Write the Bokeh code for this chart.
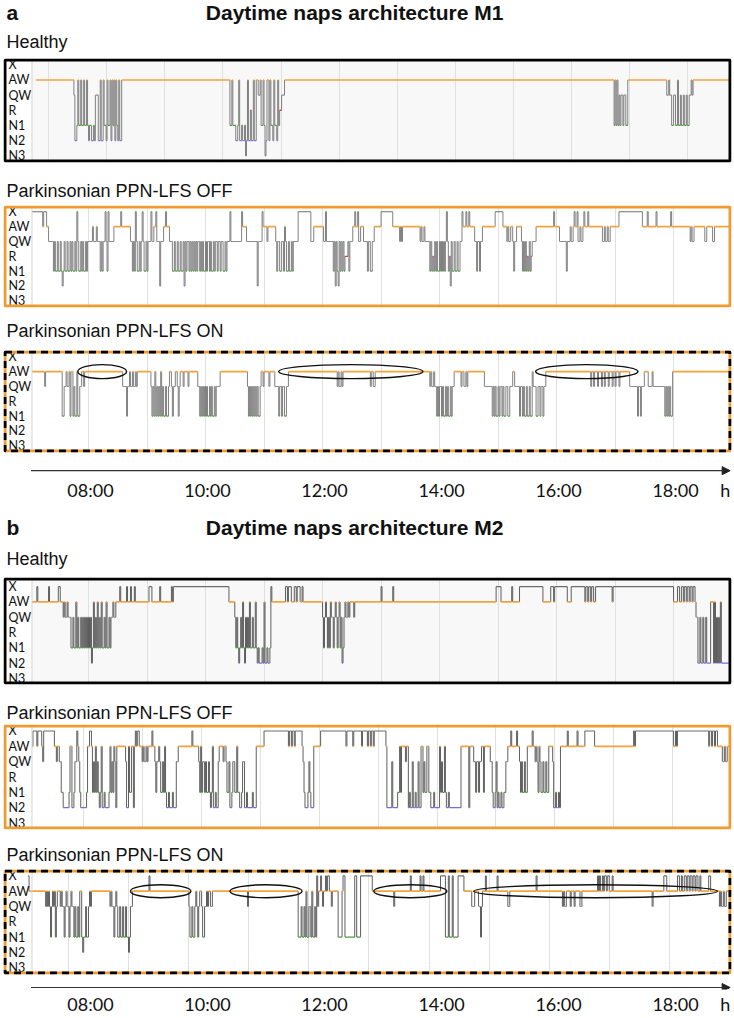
from bokeh.plotting import figure
from bokeh.layouts import column
from bokeh.models import (Range1d, FixedTicker, BoxAnnotation, Span, Arrow,
                          NormalHead, ColumnDataSource, Grid)
from bokeh.core.properties import value
from bokeh.embed import file_html
from bokeh.resources import INLINE

# ---------------- data ----------------
# sleep stages, bottom -> top (y tick labels)
STAGE_LABELS = ["N3", "N2", "N1", "R", "QW", "AW", "X"]
# time axis (minutes after 07:00)
TIME_TICK_MIN = [60, 180, 300, 420, 540, 660]
TIME_TICK_LABELS = ["08:00", "10:00", "12:00", "14:00", "16:00", "18:00"]
UNIT_LABEL = "h"
UNIT_POS = 711
AXIS_START = -1
AXIS_END = 716
SESSION_END = 715

SECTION_TITLES = ["Daytime naps architecture M1", "Daytime naps architecture M2"]
SECTION_LETTERS = ["a", "b"]
PANEL_LABELS = ["Healthy", "Parkinsonian PPN-LFS OFF", "Parkinsonian PPN-LFS ON"]

# hypnograms: (minute after 07:00 where stage starts, stage)
m1_healthy = [
    (4, "AW"),
    (43, "QW"), (44, "N2"), (46, "N1"), (47, "AW"), (48, "N1"), (50, "AW"), (51, "N1"), (53, "AW"),
    (54, "N1"), (56, "AW"), (57, "N1"), (58, "N2"), (59, "N1"), (61, "N2"), (63, "N1"), (64, "N2"),
    (65, "QW"), (68, "N2"), (70, "AW"), (71, "N2"), (73, "AW"), (74, "N1"), (76, "N2"), (77, "AW"),
    (78, "N1"), (80, "AW"), (81, "N2"), (82, "AW"), (83, "N1"), (84, "AW"), (85, "N2"), (86, "AW"),
    (87, "N1"), (88, "N2"), (89, "AW"), (90, "N2"), (92, "AW"),
    (203, "N1"), (205, "AW"), (206, "N1"), (209, "N2"), (211, "N1"), (212, "AW"), (213, "N2"),
    (215, "N1"), (216, "N2"), (218, "N1"), (219, "N3"), (220, "N2"), (221, "AW"), (222, "N2"),
    (224, "R"), (225, "N2"), (227, "AW"), (228, "N2"), (230, "AW"), (232, "QW"), (234, "AW"),
    (235, "N1"), (237, "AW"), (238, "N1"), (239, "N3"), (240, "N2"), (241, "AW"), (243, "N2"),
    (244, "AW"), (245, "N1"), (247, "N2"), (248, "AW"), (249, "N1"), (251, "N2"), (252, "AW"),
    (253, "N1"), (254, "R"), (256, "QW"), (259, "AW"),
    (597, "N1"), (598, "AW"), (599, "N1"), (600, "AW"), (601, "N1"), (602, "QW"), (603, "N1"),
    (604, "QW"), (606, "N1"), (607, "QW"), (609, "N1"), (611, "AW"),
    (651, "QW"), (653, "AW"), (654, "QW"), (656, "N1"), (658, "QW"), (660, "N1"), (662, "AW"),
    (663, "N1"), (665, "QW"), (666, "N1"), (668, "QW"), (669, "N1"), (671, "QW"), (672, "N1"),
    (674, "QW"), (676, "AW"), (677, "QW"), (678, "AW"),
]

m1_off = [
    (0, "X"), (11, "AW"), (12, "X"), (15, "AW"), (17, "QW"),
    (22, "N1"), (23, "QW"), (24, "N1"), (26, "QW"), (27, "N1"), (29, "QW"), (30, "N1"), (31, "N2"),
    (32, "N1"), (33, "QW"), (34, "N1"), (36, "QW"), (37, "N1"), (39, "QW"), (40, "N1"), (41, "QW"),
    (42, "N1"), (44, "QW"), (45, "N1"), (46, "X"), (47, "QW"), (48, "N1"), (50, "QW"), (51, "N1"),
    (52, "QW"), (53, "N1"), (55, "QW"), (56, "N1"), (57, "QW"),
    (62, "AW"), (63, "QW"), (66, "AW"), (67, "QW"),
    (70, "N1"), (71, "QW"), (72, "N1"), (73, "QW"), (75, "X"), (76, "QW"), (77, "N1"), (78, "X"),
    (79, "QW"), (84, "AW"), (91, "X"), (92, "AW"), (101, "QW"),
    (103, "N1"), (104, "QW"), (105, "N1"), (106, "X"), (107, "QW"), (108, "N1"), (110, "QW"),
    (111, "N1"), (112, "QW"), (113, "X"), (114, "QW"), (115, "N1"), (117, "QW"), (118, "N1"),
    (119, "QW"), (122, "X"), (123, "QW"), (125, "AW"), (127, "X"), (128, "QW"), (131, "N2"),
    (132, "QW"), (135, "AW"), (137, "X"), (138, "AW"), (141, "QW"),
    (144, "N1"), (146, "QW"), (147, "N1"), (149, "QW"), (150, "N1"), (152, "QW"), (153, "N1"),
    (155, "QW"), (156, "N2"), (157, "QW"), (158, "N1"), (159, "QW"),
    (161, "N1"), (162, "QW"), (163, "N1"), (164, "QW"), (165, "N1"), (166, "QW"), (167, "N1"),
    (168, "QW"), (169, "N1"), (170, "QW"), (172, "N1"), (173, "QW"), (174, "N1"), (175, "QW"),
    (176, "N1"), (178, "QW"), (179, "N1"), (180, "QW"), (182, "N1"), (183, "QW"), (184, "N1"),
    (186, "QW"), (187, "N1"), (188, "QW"), (190, "N1"), (191, "QW"), (193, "N1"), (194, "QW"),
    (196, "N1"), (198, "QW"), (199, "N1"), (200, "QW"),
    (203, "X"), (204, "QW"), (215, "X"), (216, "AW"), (220, "QW"), (231, "N2"), (232, "QW"),
    (236, "X"), (237, "AW"), (241, "QW"), (242, "AW"), (250, "QW"),
    (251, "N1"), (252, "QW"), (254, "N1"), (256, "QW"), (258, "N1"), (259, "AW"), (260, "QW"),
    (261, "N1"), (263, "QW"), (264, "N1"), (266, "QW"), (267, "N1"), (268, "QW"),
    (273, "X"), (286, "QW"), (289, "AW"), (299, "QW"), (301, "X"), (302, "QW"),
    (309, "N1"), (310, "QW"), (311, "N2"), (312, "QW"), (313, "N1"), (314, "N2"), (315, "QW"),
    (316, "N1"), (317, "QW"), (318, "N1"), (319, "QW"), (320, "N1"), (321, "R"), (324, "QW"),
    (325, "N1"), (326, "QW"), (329, "AW"), (331, "X"), (332, "AW"), (334, "X"), (335, "QW"),
    (337, "AW"), (340, "QW"), (344, "N1"), (345, "QW"), (347, "N1"), (349, "QW"), (351, "AW"),
    (358, "X"), (370, "AW"), (377, "QW"), (378, "AW"), (379, "QW"), (380, "AW"),
    (398, "QW"), (399, "AW"), (400, "QW"), (402, "AW"), (403, "QW"),
    (408, "N1"), (409, "QW"), (410, "N1"), (411, "R"), (412, "N1"), (413, "QW"), (414, "N1"),
    (415, "QW"), (416, "N1"), (418, "QW"), (419, "N1"), (420, "QW"), (421, "N1"), (422, "QW"),
    (423, "N1"), (424, "QW"), (425, "X"), (426, "QW"), (427, "N1"), (428, "R"), (429, "N2"),
    (430, "QW"), (431, "N1"), (433, "QW"), (434, "N1"), (436, "QW"), (437, "N1"), (439, "QW"),
    (441, "X"), (442, "AW"), (445, "X"), (446, "AW"), (448, "X"), (449, "AW"),
    (454, "QW"), (456, "N1"), (457, "QW"), (459, "N1"), (460, "QW"), (462, "AW"),
    (475, "X"), (483, "AW"), (487, "QW"), (488, "AW"), (489, "QW"), (491, "AW"), (493, "QW"),
    (494, "N1"), (495, "QW"), (497, "AW"),
    (502, "QW"), (503, "N1"), (504, "QW"), (505, "N1"), (506, "QW"), (507, "N1"), (508, "R"),
    (509, "N1"), (510, "QW"), (511, "N1"), (512, "R"), (513, "QW"),
    (517, "AW"), (535, "X"), (536, "AW"), (541, "QW"), (548, "N1"), (549, "QW"), (552, "AW"),
    (553, "QW"), (555, "AW"), (556, "X"), (557, "AW"), (559, "X"), (560, "QW"), (562, "AW"),
    (563, "QW"), (565, "AW"), (566, "X"), (567, "AW"), (570, "X"), (571, "AW"),
    (585, "QW"), (587, "AW"), (588, "QW"), (590, "AW"), (591, "QW"), (593, "AW"),
    (602, "X"), (626, "AW"), (631, "X"), (632, "AW"), (640, "X"), (641, "AW"), (655, "X"),
    (656, "AW"), (675, "QW"), (676, "AW"), (677, "QW"), (679, "AW"), (690, "QW"), (692, "AW"),
    (698, "QW"), (700, "AW"),
]

m1_on = [
    (0, "AW"), (13, "QW"), (14, "AW"),
    (31, "N1"), (33, "QW"), (35, "AW"), (36, "QW"), (38, "AW"), (39, "N1"), (40, "AW"), (42, "N1"),
    (43, "QW"), (44, "N1"), (46, "AW"), (47, "N1"), (49, "QW"), (51, "AW"), (53, "QW"), (54, "AW"),
    (93, "QW"), (97, "N1"), (98, "QW"), (100, "AW"), (101, "QW"), (103, "AW"), (104, "QW"),
    (106, "AW"), (107, "QW"), (108, "AW"),
    (122, "QW"), (123, "N1"), (124, "QW"), (125, "N1"), (126, "AW"), (127, "N1"), (128, "QW"),
    (129, "N1"), (130, "QW"), (131, "N1"), (132, "AW"), (133, "N1"), (134, "QW"), (135, "N1"),
    (137, "QW"), (138, "N1"), (140, "QW"), (141, "AW"), (143, "QW"), (144, "N1"), (145, "QW"),
    (147, "AW"), (149, "QW"), (150, "N1"), (151, "QW"), (152, "AW"),
    (155, "QW"), (156, "AW"), (160, "QW"), (161, "AW"),
    (170, "QW"), (172, "N1"), (173, "QW"), (174, "N1"), (175, "QW"), (176, "N1"), (177, "QW"),
    (178, "N1"), (179, "QW"), (180, "N1"), (182, "QW"), (183, "N1"), (184, "QW"), (185, "N1"),
    (187, "QW"), (188, "N1"), (189, "QW"), (193, "AW"),
    (221, "QW"), (222, "N1"), (223, "QW"), (224, "N1"), (225, "QW"), (226, "N1"), (227, "QW"),
    (228, "N1"), (229, "QW"), (230, "N1"), (231, "QW"), (232, "N1"), (234, "QW"), (235, "AW"),
    (237, "QW"), (238, "AW"), (243, "QW"), (244, "AW"), (249, "QW"), (253, "N1"), (254, "QW"),
    (256, "N1"), (257, "QW"), (259, "N1"), (261, "QW"), (263, "AW"),
    (313, "QW"), (314, "AW"), (315, "QW"), (317, "AW"), (318, "QW"), (319, "AW"),
    (347, "QW"), (348, "AW"), (350, "QW"), (352, "AW"),
    (408, "QW"), (409, "AW"), (410, "QW"), (412, "AW"), (413, "QW"), (415, "N1"), (416, "QW"),
    (417, "N1"), (418, "QW"), (420, "N1"), (421, "QW"), (422, "N1"), (424, "QW"), (425, "N1"),
    (426, "QW"), (427, "N1"), (429, "QW"), (430, "N1"), (431, "QW"), (433, "AW"),
    (440, "QW"), (441, "AW"), (443, "QW"), (445, "AW"), (446, "QW"), (447, "AW"),
    (464, "QW"), (472, "N1"), (473, "QW"), (474, "N1"), (475, "QW"), (476, "N1"), (478, "QW"),
    (479, "N1"), (480, "QW"), (482, "N1"), (483, "QW"), (484, "N1"), (486, "QW"), (488, "N1"),
    (490, "QW"), (493, "AW"), (495, "QW"),
    (500, "N1"), (501, "QW"), (503, "N1"), (504, "QW"), (505, "N1"), (507, "QW"), (508, "N1"),
    (510, "QW"), (511, "N1"), (513, "AW"), (514, "QW"), (517, "N1"), (519, "QW"), (521, "N1"),
    (522, "QW"), (524, "N1"), (525, "QW"), (527, "AW"),
    (573, "QW"), (574, "AW"), (576, "QW"), (577, "AW"), (580, "QW"), (581, "AW"), (584, "QW"),
    (585, "AW"), (587, "QW"), (588, "AW"), (591, "QW"), (592, "AW"), (595, "QW"), (596, "AW"),
    (598, "QW"), (599, "AW"), (602, "QW"), (603, "AW"),
    (613, "QW"), (621, "N1"), (622, "QW"), (624, "N1"), (625, "QW"), (628, "AW"),
    (632, "QW"), (636, "AW"), (637, "QW"), (649, "N1"), (650, "QW"), (651, "N1"), (652, "QW"),
    (653, "N1"), (654, "QW"), (655, "N1"), (657, "AW"),
]

m2_healthy = [
    (0, "AW"), (5, "X"), (6, "AW"), (17, "X"), (18, "AW"), (27, "X"), (29, "AW"),
    (32, "QW"), (33, "AW"), (34, "QW"), (36, "AW"), (37, "QW"), (40, "N1"), (42, "QW"), (43, "N1"),
    (45, "AW"), (46, "N1"), (47, "QW"), (48, "N1"), (50, "QW"), (51, "N1"), (52, "QW"), (53, "N1"),
    (54, "QW"), (55, "N1"), (56, "QW"), (57, "N1"), (58, "QW"), (59, "N1"), (60, "QW"), (61, "N2"),
    (62, "N1"), (63, "AW"), (64, "N1"), (65, "QW"), (66, "N1"), (67, "AW"), (68, "N1"), (69, "QW"),
    (70, "N1"), (71, "AW"), (72, "N1"), (74, "QW"), (75, "N1"), (76, "AW"), (77, "N1"), (79, "QW"),
    (80, "N1"), (81, "QW"), (83, "AW"), (84, "QW"), (86, "AW"),
    (90, "X"), (91, "AW"), (97, "X"), (98, "AW"), (101, "X"), (102, "AW"), (105, "X"), (106, "AW"),
    (120, "X"), (123, "AW"), (131, "X"), (132, "AW"), (143, "X"), (144, "AW"), (145, "X"),
    (202, "AW"), (208, "QW"), (209, "N1"), (210, "QW"), (211, "N1"), (212, "N2"), (213, "N1"),
    (214, "QW"), (215, "N1"), (216, "AW"), (217, "N1"), (218, "N2"), (219, "QW"), (220, "N1"),
    (221, "QW"), (222, "N1"), (223, "AW"), (224, "N1"), (226, "QW"), (227, "N1"), (229, "AW"),
    (230, "N1"), (231, "N2"), (232, "N1"), (233, "N2"), (236, "N1"), (237, "N2"), (238, "AW"),
    (239, "N2"), (241, "N1"), (242, "N2"), (244, "N1"), (245, "X"), (246, "AW"),
    (260, "X"), (262, "AW"), (263, "X"), (266, "AW"), (269, "X"), (271, "AW"), (272, "X"),
    (275, "AW"), (277, "X"), (278, "AW"),
    (298, "QW"), (299, "N1"), (300, "QW"), (301, "AW"), (302, "QW"), (303, "N1"), (304, "QW"),
    (305, "N1"), (306, "AW"), (307, "QW"), (309, "N1"), (310, "QW"), (311, "AW"), (312, "QW"),
    (313, "N1"), (314, "QW"), (315, "AW"), (316, "N1"), (317, "QW"), (318, "N2"), (319, "N1"),
    (320, "QW"), (321, "AW"), (322, "QW"), (324, "AW"), (325, "QW"), (326, "AW"), (330, "QW"),
    (331, "AW"), (358, "X"), (359, "AW"), (370, "X"), (371, "AW"),
    (476, "X"), (481, "AW"), (492, "X"), (493, "AW"), (500, "X"), (524, "AW"),
    (532, "X"), (535, "AW"), (536, "X"), (549, "AW"), (553, "X"), (567, "AW"), (568, "X"),
    (570, "AW"), (571, "X"), (573, "AW"), (574, "X"), (576, "AW"), (578, "X"), (595, "AW"),
    (596, "X"), (658, "AW"), (662, "X"), (664, "AW"), (666, "X"), (668, "AW"), (669, "X"),
    (671, "AW"), (672, "X"), (674, "AW"), (675, "X"), (677, "AW"), (678, "X"), (680, "AW"),
    (681, "QW"), (683, "N2"), (685, "QW"), (686, "N2"), (688, "QW"), (689, "N2"), (691, "QW"),
    (692, "N2"), (696, "AW"), (699, "N2"), (700, "AW"), (701, "N2"), (702, "QW"), (703, "N2"),
    (704, "QW"), (705, "N2"), (706, "AW"), (707, "N2"),
]

m2_off = [
    (0, "AW"), (1, "X"), (5, "AW"), (6, "X"), (10, "AW"), (11, "QW"), (12, "X"), (23, "AW"),
    (25, "QW"), (26, "AW"), (28, "QW"), (30, "N1"), (32, "N2"), (38, "N1"), (39, "AW"), (41, "N2"),
    (43, "N1"), (44, "QW"), (46, "X"), (47, "AW"),
    (48, "QW"), (49, "N1"), (50, "N2"), (56, "N1"), (57, "AW"), (59, "X"), (61, "AW"), (62, "N1"),
    (63, "QW"), (64, "N1"), (65, "AW"), (66, "N1"), (67, "QW"), (68, "N1"), (69, "N2"), (70, "N1"),
    (71, "AW"), (72, "N2"), (74, "N1"), (75, "N2"), (79, "N1"), (80, "AW"), (81, "N1"), (82, "QW"),
    (83, "N1"), (84, "AW"), (85, "QW"), (86, "N2"), (87, "AW"),
    (96, "QW"), (97, "N2"), (99, "AW"), (100, "N1"), (102, "AW"), (104, "N2"), (105, "AW"),
    (106, "X"), (107, "AW"), (108, "X"), (110, "AW"),
    (113, "QW"), (114, "AW"), (115, "QW"), (117, "AW"), (118, "QW"), (119, "AW"), (123, "X"),
    (124, "AW"), (126, "QW"), (127, "N1"), (128, "QW"), (130, "AW"), (131, "QW"), (132, "N1"),
    (134, "QW"), (135, "N1"), (136, "AW"), (137, "N1"), (138, "N2"), (140, "N1"), (141, "N2"),
    (144, "N1"), (145, "N2"), (148, "QW"), (150, "AW"), (164, "X"), (165, "AW"),
    (171, "QW"), (172, "N1"), (173, "AW"), (174, "N1"), (175, "QW"), (177, "N1"), (178, "QW"),
    (179, "N1"), (181, "QW"), (182, "N1"), (183, "N2"), (184, "N1"), (185, "AW"), (186, "N2"),
    (188, "N1"), (189, "N2"), (191, "QW"), (192, "AW"),
    (196, "QW"), (197, "AW"), (199, "QW"), (200, "N1"), (202, "QW"), (203, "N2"), (205, "N1"),
    (206, "QW"), (208, "N1"), (210, "AW"), (211, "N1"), (213, "N2"), (215, "N1"), (216, "QW"),
    (218, "N2"), (220, "N1"), (221, "N2"), (226, "N1"), (227, "N2"), (230, "AW"),
    (238, "X"), (263, "AW"), (264, "X"), (266, "AW"), (267, "X"), (269, "AW"), (270, "X"),
    (277, "AW"), (278, "QW"), (279, "N1"), (280, "N2"), (283, "N1"), (284, "QW"), (285, "N1"),
    (286, "N2"), (289, "AW"),
    (296, "X"), (322, "AW"), (323, "X"), (329, "AW"), (330, "X"), (338, "AW"), (339, "X"),
    (344, "AW"), (345, "X"), (347, "AW"), (348, "X"), (350, "AW"), (351, "X"), (363, "AW"),
    (364, "N2"), (369, "QW"), (370, "N2"), (375, "N1"), (377, "AW"), (378, "N1"), (379, "AW"),
    (383, "QW"), (384, "AW"), (386, "N2"), (387, "N1"), (388, "N2"), (390, "QW"), (391, "N2"),
    (393, "N1"), (394, "N2"), (396, "QW"), (397, "N2"), (399, "AW"), (401, "N1"), (402, "QW"),
    (403, "N1"), (405, "AW"), (407, "N1"), (409, "N2"), (412, "N1"), (413, "N2"), (418, "AW"),
    (419, "N1"), (420, "QW"), (421, "N1"), (423, "AW"), (424, "N1"), (425, "N2"), (427, "N1"),
    (428, "N2"), (440, "AW"), (448, "N2"), (449, "AW"), (453, "QW"), (455, "N1"), (456, "QW"),
    (458, "N1"), (459, "QW"), (461, "AW"), (463, "N1"), (464, "AW"), (470, "QW"), (472, "N1"),
    (473, "N2"), (475, "N1"), (476, "QW"), (477, "N2"), (478, "N1"), (479, "N2"), (481, "N1"),
    (482, "N2"), (484, "N1"), (486, "QW"), (488, "AW"), (491, "X"), (492, "AW"), (497, "X"),
    (498, "AW"), (500, "QW"), (501, "N1"), (502, "QW"), (503, "N1"), (505, "QW"), (506, "N1"),
    (508, "AW"), (513, "X"), (514, "AW"), (516, "QW"), (517, "AW"), (518, "QW"), (519, "N1"),
    (520, "AW"), (521, "QW"), (522, "N1"), (524, "QW"), (525, "N1"), (527, "QW"), (528, "N1"),
    (530, "AW"), (534, "QW"), (535, "N2"), (537, "N1"), (538, "N2"), (540, "N1"), (541, "N2"),
    (542, "AW"), (549, "X"), (550, "AW"), (559, "X"), (560, "AW"), (567, "X"), (577, "AW"),
    (617, "X"), (618, "AW"), (619, "X"), (658, "AW"), (660, "X"), (661, "AW"), (662, "X"),
    (694, "AW"), (695, "X"), (697, "AW"), (698, "X"), (700, "AW"), (701, "X"), (703, "AW"),
    (708, "QW"), (710, "AW"), (711, "QW"), (713, "AW"),
]

m2_on = [
    (-4, "X"), (-3, "AW"),
    (14, "QW"), (15, "AW"), (16, "QW"), (17, "AW"), (18, "QW"), (19, "N1"), (20, "QW"), (21, "AW"),
    (22, "QW"), (23, "AW"), (24, "N1"), (25, "QW"), (26, "AW"),
    (29, "QW"), (30, "AW"), (31, "QW"), (33, "N1"), (34, "QW"), (35, "AW"), (36, "QW"), (38, "N1"),
    (39, "QW"), (40, "AW"), (41, "QW"), (43, "N1"), (44, "QW"), (45, "N1"), (47, "QW"), (48, "N1"),
    (49, "AW"), (51, "N1"), (52, "N2"), (53, "N1"), (55, "QW"), (56, "N1"), (58, "QW"), (59, "AW"),
    (60, "QW"), (61, "AW"),
    (80, "QW"), (81, "AW"), (82, "QW"), (84, "N1"), (85, "QW"), (86, "AW"), (87, "QW"), (88, "N1"),
    (90, "QW"), (91, "N1"), (93, "QW"), (94, "N1"), (96, "QW"), (97, "N1"), (99, "N2"), (100, "N1"),
    (101, "QW"), (103, "AW"), (120, "X"), (121, "AW"),
    (161, "QW"), (162, "N1"), (164, "QW"), (165, "N1"), (167, "QW"), (168, "AW"), (169, "QW"),
    (170, "N1"), (171, "QW"), (172, "AW"), (174, "QW"), (175, "N1"), (177, "QW"), (179, "AW"),
    (180, "QW"), (181, "AW"), (183, "QW"), (185, "AW"),
    (221, "QW"), (222, "AW"),
    (273, "N1"), (276, "QW"), (277, "N1"), (279, "QW"), (280, "N1"), (281, "AW"), (282, "N1"),
    (284, "QW"), (286, "N1"), (287, "AW"), (288, "N1"), (290, "QW"), (291, "N1"), (292, "X"),
    (293, "QW"), (294, "AW"), (296, "X"), (297, "AW"), (298, "QW"), (299, "AW"), (301, "X"),
    (302, "AW"), (303, "X"), (305, "AW"), (307, "QW"), (308, "AW"),
    (314, "N1"), (318, "AW"), (319, "X"), (321, "N1"), (331, "X"), (333, "N1"), (337, "X"),
    (349, "AW"), (371, "QW"), (372, "AW"), (388, "X"), (389, "AW"), (398, "X"), (399, "AW"),
    (401, "X"), (402, "AW"),
    (419, "X"), (424, "N1"), (427, "X"), (428, "N1"), (431, "X"), (432, "N1"), (437, "X"),
    (443, "AW"), (451, "QW"), (454, "AW"), (458, "QW"), (460, "N1"), (461, "QW"), (462, "AW"),
    (465, "X"), (466, "AW"), (477, "X"), (478, "AW"), (488, "QW"), (490, "AW"), (517, "X"),
    (518, "AW"), (544, "QW"), (545, "AW"), (546, "QW"), (548, "AW"), (552, "QW"), (553, "AW"),
    (556, "QW"), (557, "AW"), (562, "QW"), (564, "AW"), (580, "X"), (581, "AW"), (582, "X"),
    (583, "AW"), (585, "X"), (586, "AW"), (587, "X"), (589, "AW"), (590, "X"), (592, "AW"),
    (595, "X"), (596, "AW"), (636, "QW"), (637, "AW"), (648, "X"), (651, "AW"), (662, "X"),
    (664, "AW"), (666, "X"), (667, "AW"), (669, "X"), (671, "AW"), (672, "X"), (674, "AW"),
    (675, "X"), (677, "AW"), (678, "X"), (680, "AW"), (681, "X"), (683, "AW"), (685, "X"),
    (686, "AW"), (694, "X"), (696, "AW"), (705, "QW"), (706, "AW"), (707, "QW"), (709, "AW"),
    (710, "QW"), (712, "AW"),
]

# highlighted (circled) wake periods in the ON condition: centre and width in minutes
m1_on_ellipse_center = [72, 327, 569]
m1_on_ellipse_width = [50, 148, 105]
m2_on_ellipse_center = [132, 240, 388, 578]
m2_on_ellipse_width = [62, 74, 75, 250]

# hourly grid of each recording: (first line, spacing) in minutes
m1_healthy_grid = (17, 59.6)
m1_off_grid = (58, 60)
m1_on_grid = (58, 60)
m2_healthy_grid = (58, 60)
m2_off_grid = (53, 60.4)
m2_on_grid = (37, 61.7)

# ---------------- styling ----------------
W = 734
BORDER_LR = 3
X0, X1 = -29.2, 717.4
ORANGE = "#f09b30"
STAGE_COLORS = {"AW": "#f3a33e", "N1": "#4c9a3a", "N2": "#7070e0", "R": "#e0393a",
                "QW": "#8c8c8c", "X": "#6c6c6c", "N3": "#555555"}
STAGE_WIDTH = {"AW": 1.7, "N1": 1.3, "N2": 1.3, "R": 1.3, "QW": 1.1, "X": 1.1, "N3": 1.1}
LEVEL = {s: i for i, s in enumerate(STAGE_LABELS)}
SANS = "Liberation Sans"
BOX_W = 3


def text_fig(height, items):
    p = figure(width=W, height=height, x_range=Range1d(0, W), y_range=Range1d(0, height),
               toolbar_location=None, output_backend="svg", x_axis_type=None,
               y_axis_type=None, min_border=0, outline_line_color=None)
    for txt, x, y, size, style, align in items:
        p.text(x=[x], y=[y], text=[txt], text_font=value(SANS), text_font_size=size,
               text_font_style=style, text_align=align, text_baseline="middle",
               text_color="#111111")
    return p


def panel(steps, height, yr, box, grid, shaded, vcolor, ell_c=None, ell_w=None, ell_h=14):
    y0, y1 = yr
    p = figure(width=W, height=height, x_range=Range1d(X0, X1), y_range=Range1d(y0, y1),
               toolbar_location=None, output_backend="svg", x_axis_type=None,
               y_axis_type=None, min_border_left=BORDER_LR, min_border_right=BORDER_LR,
               min_border_top=1, min_border_bottom=1, outline_line_color=None)
    # half the frame line width, in data units, so that the whole line lies inside the frame
    dx = (X1 - X0) / (W - 2 * BORDER_LR) * BOX_W / 2
    dy = (y1 - y0) / (height - 2) * BOX_W / 2
    if shaded:
        p.add_layout(BoxAnnotation(left=0, right=X1, bottom=y0, top=y1, fill_color="#f8f8f8",
                                   fill_alpha=1, line_alpha=0, level="underlay"))
    start, step = grid
    ticks = []
    g = start
    while g < SESSION_END:
        ticks.append(g)
        g += step
    p.add_layout(Grid(dimension=0, ticker=FixedTicker(ticks=ticks),
                      grid_line_color="#e0e0e0", grid_line_width=1))
    p.add_layout(Span(location=0, dimension="height", line_color="#d4d4d4", line_width=1))

    t = [s[0] for s in steps] + [SESSION_END]
    lv = [LEVEL[s[1]] for s in steps]
    vsrc = ColumnDataSource(dict(x=t[1:-1], y0=lv[:-1], y1=lv[1:]))
    p.segment(x0="x", x1="x", y0="y0", y1="y1", source=vsrc, line_color=vcolor,
              line_width=0.9)
    hsrc = ColumnDataSource(dict(x0=t[:-1], x1=t[1:], y=lv,
                                 c=[STAGE_COLORS[s[1]] for s in steps],
                                 w=[STAGE_WIDTH[s[1]] for s in steps]))
    p.segment(x0="x0", x1="x1", y0="y", y1="y", source=hsrc, line_color="c", line_width="w")

    if ell_c:
        p.ellipse(x=ell_c, y=[LEVEL["AW"]] * len(ell_c), width=ell_w, height=ell_h,
                  height_units="screen", fill_color=None, line_color="#111111",
                  line_width=1.4)

    p.text(x=[X0] * len(STAGE_LABELS), y=list(range(len(STAGE_LABELS))), text=STAGE_LABELS,
           x_offset=5, text_baseline="middle", text_align="left", text_font=value("Lato"),
           text_font_size="12.5px", text_color="#111111")

    for color, dash in box:
        p.add_layout(BoxAnnotation(left=X0 + dx, right=X1 - dx, bottom=y0 + dy, top=y1 - dy,
                                   fill_alpha=0, line_color=color, line_alpha=1,
                                   line_width=BOX_W, line_dash=dash))
    return p


def axis_fig(height, arrow_y):
    p = figure(width=W, height=height, x_range=Range1d(X0, X1), y_range=Range1d(0, 1),
               toolbar_location=None, output_backend="svg", y_axis_type=None,
               min_border_left=BORDER_LR, min_border_right=BORDER_LR, min_border_top=0,
               min_border_bottom=0, outline_line_color=None)
    p.xgrid.visible = False
    ax = p.xaxis[0]
    ax.ticker = FixedTicker(ticks=TIME_TICK_MIN + [UNIT_POS])
    labels = dict(zip(TIME_TICK_MIN, TIME_TICK_LABELS))
    labels[UNIT_POS] = UNIT_LABEL
    ax.major_label_overrides = labels
    ax.axis_line_color = None
    ax.major_tick_line_color = None
    ax.minor_tick_line_color = None
    ax.major_tick_out = 0
    ax.major_tick_in = 0
    ax.minor_tick_out = 0
    ax.major_label_text_font = "Lato"
    ax.major_label_text_font_size = "18px"
    ax.major_label_text_color = "#111111"
    ax.major_label_standoff = 3
    p.add_layout(Arrow(end=NormalHead(size=8, fill_color="#222222", line_color="#222222"),
                       x_start=AXIS_START, y_start=arrow_y, x_end=AXIS_END, y_end=arrow_y,
                       line_color="#333333", line_width=1.1))
    return p


SOLID_BLACK = [("black", "solid")]
SOLID_ORANGE = [(ORANGE, "solid")]
DASHED = [(ORANGE, "solid"), ("black", "7 5")]
YR_A = (-0.45, 6.42)
V_M1 = "#737373"
V_M2 = "#4d4d4d"

figs = [
    text_fig(26, [(SECTION_LETTERS[0], 3, 14, "21px", "bold", "left"),
                  (SECTION_TITLES[0], 354, 14, "21px", "bold", "center")]),
    text_fig(31, [(PANEL_LABELS[0], 3, 15.5, "18px", "normal", "left")]),
    panel(m1_healthy, 106, YR_A, SOLID_BLACK, m1_healthy_grid, True, V_M1),
    text_fig(41, [(PANEL_LABELS[1], 3, 14, "18px", "normal", "left")]),
    panel(m1_off, 104, YR_A, SOLID_ORANGE, m1_off_grid, False, V_M1),
    text_fig(41, [(PANEL_LABELS[2], 3, 18.5, "18px", "normal", "left")]),
    panel(m1_on, 104, YR_A, DASHED, m1_on_grid, False, V_M1, m1_on_ellipse_center,
          m1_on_ellipse_width, 14),
    axis_fig(50, 0.22),
    text_fig(38, [(SECTION_LETTERS[1], 3, 14, "21px", "bold", "left"),
                  (SECTION_TITLES[1], 354, 14, "21px", "bold", "center")]),
    text_fig(35, [(PANEL_LABELS[0], 3, 18, "18px", "normal", "left")]),
    panel(m2_healthy, 109, (-0.4, 6.6), SOLID_BLACK, m2_healthy_grid, True, V_M2),
    text_fig(38, [(PANEL_LABELS[1], 3, 11, "18px", "normal", "left")]),
    panel(m2_off, 107, (-0.42, 6.42), SOLID_ORANGE, m2_off_grid, False, V_M2),
    text_fig(38, [(PANEL_LABELS[2], 3, 14, "18px", "normal", "left")]),
    panel(m2_on, 107, (-0.45, 6.42), DASHED, m2_on_grid, False, V_M2, m2_on_ellipse_center,
          m2_on_ellipse_width, 13),
    axis_fig(42, 0.14),
]

layout = column(*figs, spacing=0)
open("out.html", "w").write(file_html(layout, INLINE))
